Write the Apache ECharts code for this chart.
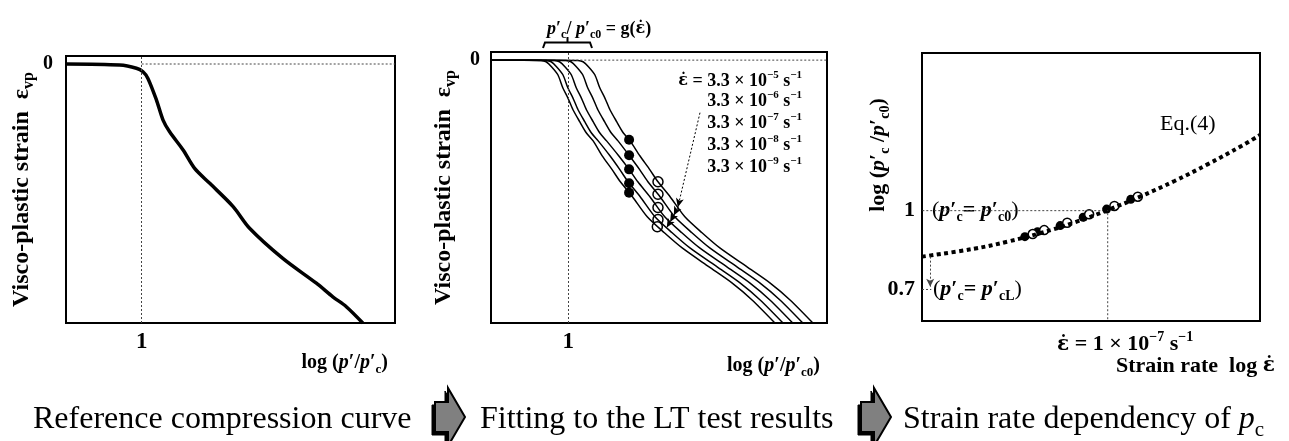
<!DOCTYPE html>
<html><head><meta charset="utf-8">
<script src="https://cdn.jsdelivr.net/npm/echarts@6/dist/echarts.min.js"></script>
<style>html,body{margin:0;padding:0;background:#fff}#c{width:1289px;height:441px}</style>
</head><body><div id="c"></div>
<script>
// ---------- Panel 1: reference compression curve ----------
const refX = [-23, -6.7, -1.6, 0.4, 1.9, 4.5, 6.5, 8.5, 12.6, 16.1, 20.7, 27.8, 32.8, 42.9, 53.1, 58.1, 62.2, 67.2];
const refY = [0, -0.4, -1.6, -2.9, -5.4, -13.5, -21.0, -25.4, -32.2, -39.1, -44.7, -53.4, -61.5, -72.8, -82.1, -87.2, -90.9, -97.0];

// ---------- Panel 2: fitted curves for five strain rates ----------
const fitY  = [0, 0, -0.1, -0.6, -2.4, -5.4, -10.3, -14.0, -18.3, -22.7, -26.9, -29.8, -35.3, -40.5, -44.9, -50.4, -57.8, -63.7, -69.3, -76.3, -82.2, -88.5, -97.0];
const fitXA = [-23, -2.5, 2.9, 4.4, 6.0, 7.9, 9.4, 10.9, 12.4, 14.4, 16.4, 18.4, 21.3, 24.3, 26.7, 30.3, 34.7, 39.8, 45.1, 53.2, 60.0, 66.0, 72.8];
const fitXB = [-23, -6.1, -0.7, 0.8, 2.4, 4.3, 5.8, 7.3, 8.8, 10.8, 12.8, 14.8, 18.2, 21.3, 23.7, 27.3, 31.7, 36.8, 42.1, 50.2, 57.0, 63.0, 69.8];
const fitXC = [-23, -9.5, -4.1, -2.6, -1.0, 0.9, 2.4, 3.9, 5.4, 7.4, 9.4, 11.4, 15.0, 18.2, 20.7, 24.3, 28.7, 33.8, 39.1, 47.2, 54.0, 60.0, 66.8];
const fitXD = [-23, -12.0, -6.6, -5.1, -3.5, -1.6, -0.1, 1.4, 2.9, 4.9, 6.9, 8.9, 12.4, 15.4, 17.8, 21.4, 25.8, 30.9, 36.2, 44.3, 51.1, 57.1, 63.9];
const fitXE = [-23, -13.5, -8.1, -6.6, -5.0, -3.1, -1.6, -0.1, 1.4, 3.4, 5.4, 7.4, 10.1, 13.1, 15.5, 19.1, 23.5, 28.6, 33.9, 41.9, 48.7, 54.7, 61.5];
const testFilledX = [18.1, 18.1, 18.1, 18.1, 18.1];
const testFilledY = [-29.4, -35.1, -40.3, -45.4, -48.9];
const testOpenX = [26.7, 26.7, 26.7, 26.7, 26.5];
const testOpenY = [-44.9, -49.5, -54.4, -58.8, -61.5];
const arrowChainX = [39.2, 32.6, 31.4, 30.3, 29.3];
const arrowChainY = [-19.4, -54.3, -57.3, -59.7, -61.8];
const rateCoef = '3.3';
const rateExps = ['\u22125', '\u22126', '\u22127', '\u22128', '\u22129'];

// ---------- Panel 3: strain-rate dependency ----------
const rateX = [-12, -10.6, -9.7, -8.8, -7.9, -7.0, -6.1, -5.2, -4.3, -3.4, -2.9];
const pcY   = [0.825, 0.855, 0.882, 0.915, 0.955, 1.002, 1.055, 1.113, 1.177, 1.246, 1.288];
const dotFilledX = [-9.23, -8.89, -8.28, -7.66, -7.03, -6.38];
const dotFilledY = [0.901, 0.920, 0.943, 0.975, 1.006, 1.043];
const dotOpenX = [-9.02, -8.71, -8.09, -7.50, -6.82, -6.19];
const dotOpenY = [0.911, 0.926, 0.954, 0.986, 1.018, 1.053];
const refRateX = -7;     // log of 1e-7
const pcLevels = [1, 0.7];
const pcLowArrowX = [-11.78, -11.78];
const pcLowArrowY = [0.825, 0.71];

// ---------- tick labels ----------
const xTicks12 = [0], xTickLabels12 = ['1'];
const yTicks12 = [0], yTickLabels12 = ['0'];
const yTickLabels3 = ['1', '0.7'];

const SERIF = "'Liberation Serif','Times New Roman',serif";
const zip = (xs, ys) => xs.map((x, i) => [x, ys[i]]);

function rich(F) {
  const lh = Math.round(F * 1.3);
  const base = {fontFamily: SERIF, color: '#000', fontSize: F, lineHeight: lh};
  return {
    b: Object.assign({}, base, {fontWeight: 'bold'}),
    bi: Object.assign({}, base, {fontWeight: 'bold', fontStyle: 'italic'}),
    n: Object.assign({}, base, {fontWeight: 'normal'}),
    i: Object.assign({}, base, {fontWeight: 'normal', fontStyle: 'italic'}),
    e: Object.assign({}, base, {fontWeight: 'bold', fontFamily: "'DejaVu Serif',serif", fontSize: Math.round(F * 0.9)}),
    s: {fontFamily: SERIF, color: '#000', fontWeight: 'bold', fontSize: Math.round(F * 0.65), lineHeight: Math.round(F * 0.65), verticalAlign: 'bottom'},
    sn: {fontFamily: SERIF, color: '#000', fontWeight: 'normal', fontSize: Math.round(F * 0.65), lineHeight: Math.round(F * 0.65), verticalAlign: 'bottom'},
    sup: {fontFamily: SERIF, color: '#000', fontWeight: 'bold', fontSize: Math.round(F * 0.62), lineHeight: Math.round(F * 0.8), verticalAlign: 'top'}
  };
}
const EPSD = '{e|\u03B5\u0307}';
const DOT = [2, 2];

function hiddenAxis(extra) {
  return Object.assign({
    type: 'value',
    axisLine: {show: false}, axisTick: {show: false}, splitLine: {show: false},
    axisLabel: {show: false}
  }, extra);
}

const chart = echarts.init(document.getElementById('c'), null, {renderer: 'canvas'});

const tickLabel = (vals, labels, F, margin) => ({
  show: true, customValues: vals, margin: margin,
  formatter: v => labels[vals.indexOf(v)],
  fontFamily: SERIF, fontWeight: 'bold', fontSize: F, color: '#000'
});

const yName = '{b|Visco-plastic strain  \u03B5}{s|vp}';

const option = {
  animation: false,
  backgroundColor: '#fff',
  grid: [
    {left: 66, top: 56, width: 329, height: 267, show: true, borderColor: '#000', borderWidth: 2, backgroundColor: 'transparent'},
    {left: 491, top: 52, width: 336, height: 271, show: true, borderColor: '#000', borderWidth: 2, backgroundColor: 'transparent'},
    {left: 922, top: 53, width: 338, height: 268, show: true, borderColor: '#000', borderWidth: 2, backgroundColor: 'transparent'}
  ],
  xAxis: [
    hiddenAxis({gridIndex: 0, min: -23, max: 77, axisLabel: tickLabel(xTicks12, xTickLabels12, 23, 8)}),
    hiddenAxis({gridIndex: 1, min: -23, max: 77, axisLabel: tickLabel(xTicks12, xTickLabels12, 23, 8)}),
    hiddenAxis({gridIndex: 2, min: -12, max: -2.9, axisLabel: {
      show: true, customValues: [refRateX], margin: 9, padding: [0, 0, 0, 35],
      formatter: () => EPSD + '{b| = 1 \u00D7 10}{sup|\u22127}{b| s}{sup|\u22121}',
      rich: rich(22)
    }})
  ],
  yAxis: [
    hiddenAxis({gridIndex: 0, min: -97, max: 3, axisLabel: tickLabel(yTicks12, yTickLabels12, 20, 13),
      name: yName, nameLocation: 'middle', nameRotate: 90, nameGap: 29,
      nameTextStyle: {rich: rich(24)}}),
    hiddenAxis({gridIndex: 1, min: -97, max: 3, axisLabel: tickLabel(yTicks12, yTickLabels12, 20, 11),
      name: yName, nameLocation: 'middle', nameRotate: 90, nameGap: 32,
      nameTextStyle: {rich: rich(24)}}),
    hiddenAxis({gridIndex: 2, min: 0.58, max: 1.6, axisLabel: tickLabel(pcLevels, yTickLabels3, 22, 7)})
  ],
  series: [
    // Panel 1
    {type: 'line', xAxisIndex: 0, yAxisIndex: 0, data: zip(refX, refY), smooth: 0.3, symbol: 'none',
      lineStyle: {color: '#000', width: 3.5}},
    {type: 'line', xAxisIndex: 0, yAxisIndex: 0, data: [[0, 0], [77, 0]], symbol: 'none',
      lineStyle: {color: '#444', width: 1, type: DOT},
      markLine: {silent: true, symbol: ['none', 'none'], label: {show: false},
        lineStyle: {color: '#444', width: 1, type: DOT}, data: [{xAxis: 0}]}},
    // Panel 2
    ...[fitXA, fitXB, fitXC, fitXD, fitXE].map(xs => ({
      type: 'line', xAxisIndex: 1, yAxisIndex: 1, data: zip(xs, fitY), smooth: 0.25, symbol: 'none',
      lineStyle: {color: '#000', width: 1.5}
    })),
    {type: 'line', xAxisIndex: 1, yAxisIndex: 1, data: [[0, 0], [77, 0]], symbol: 'none',
      lineStyle: {color: '#444', width: 1, type: DOT},
      markLine: {silent: true, symbol: ['none', 'none'], label: {show: false},
        lineStyle: {color: '#444', width: 1, type: DOT}, data: [{xAxis: 0}]}},
    {type: 'scatter', xAxisIndex: 1, yAxisIndex: 1, data: zip(testFilledX, testFilledY), symbol: 'circle', symbolSize: 10,
      itemStyle: {color: '#000', opacity: 1},
      markLine: {silent: true, symbol: ['none', 'arrow'], symbolSize: [6, 9], label: {show: false},
        lineStyle: {color: '#000', width: 1, type: DOT},
        data: arrowChainX.slice(1).map((x, i) => [{coord: [arrowChainX[i], arrowChainY[i]]}, {coord: [x, arrowChainY[i + 1]]}])}},
    {type: 'scatter', xAxisIndex: 1, yAxisIndex: 1, data: zip(testOpenX, testOpenY), symbol: 'circle', symbolSize: 10,
      itemStyle: {color: '#fff', borderColor: '#000', borderWidth: 1.5, opacity: 1}},
    // Panel 3
    {type: 'line', xAxisIndex: 2, yAxisIndex: 2, data: [[-12.1, pcLevels[0]], [refRateX, pcLevels[0]], [refRateX, 0.58]], symbol: 'none',
      lineStyle: {color: '#444', width: 1, type: DOT}},
    {type: 'line', xAxisIndex: 2, yAxisIndex: 2, data: [[-12, pcLevels[1]], [-11.75, pcLevels[1]]], symbol: 'none',
      lineStyle: {color: '#444', width: 1, type: DOT},
      markLine: {silent: true, symbol: ['none', 'arrow'], symbolSize: [6, 8], label: {show: false},
        lineStyle: {color: '#444', width: 1, type: DOT},
        data: [[{coord: [pcLowArrowX[0], pcLowArrowY[0]]}, {coord: [pcLowArrowX[1], pcLowArrowY[1]]}]]}},
    {type: 'line', xAxisIndex: 2, yAxisIndex: 2, data: zip(rateX, pcY), smooth: 0.4, symbol: 'none',
      lineStyle: {color: '#000', width: 4, type: [4, 3.5], cap: 'butt'}},
    {type: 'scatter', xAxisIndex: 2, yAxisIndex: 2, data: zip(dotFilledX, dotFilledY), symbol: 'circle', symbolSize: 9,
      itemStyle: {color: '#000', opacity: 1}},
    {type: 'scatter', xAxisIndex: 2, yAxisIndex: 2, data: zip(dotOpenX, dotOpenY), symbol: 'circle', symbolSize: 9,
      itemStyle: {color: '#fff', borderColor: '#000', borderWidth: 1.5, opacity: 1}}
  ],
  graphic: {elements: []}
};

const G = option.graphic.elements;
function txt(x, y, text, F, align, extra) {
  G.push(Object.assign({type: 'text', x: x, y: y, silent: true,
    style: {text: text, rich: rich(F), align: align || 'left', verticalAlign: 'middle',
      fontFamily: SERIF, fontSize: F, fill: '#000'}}, extra || {}));
}
// axis titles
txt(388, 363, '{b|log (}{bi|p}{b|\u2032/}{bi|p}{b|\u2032}{s|c}{b|)}', 20, 'right');
txt(820, 366, '{b|log (}{bi|p}{b|\u2032/}{bi|p}{b|\u2032}{s|c0}{b|)}', 20, 'right');
txt(1116, 366, '{b|Strain rate  log }' + EPSD, 22, 'left');
txt(878, 155, '{b|log (}{bi|p}{b|\u2032}{s|c}{b| /}{bi|p}{b|\u2032}{s|c0}{b|)}', 22, 'center', {rotation: Math.PI / 2});
// panel 2 annotations
txt(547, 29, '{bi|p}{b|\u2032}{s|c}{b|/ }{bi|p}{b|\u2032}{s|c0}{b| = g(}' + EPSD + '{b|)}', 18, 'left');
G.push({type: 'polyline', silent: true, shape: {points: [[543, 48], [545, 42.5], [590, 42.5], [592, 48]]},
  style: {stroke: '#000', lineWidth: 2, fill: null}});
G.push({type: 'polyline', silent: true, shape: {points: [[567.5, 42.5], [567.5, 37]]},
  style: {stroke: '#000', lineWidth: 2, fill: null}});
const rowY = [81, 101, 123, 145, 167];
rateExps.forEach((e, i) => {
  const head = i === 0 ? EPSD + '{b| = }' : '';
  txt(802, rowY[i], head + '{b|' + rateCoef + ' \u00D7 10}{sup|' + e + '}{b| s}{sup|\u22121}', 18, 'right');
});
// panel 3 annotations
txt(932, 210, '{n|(}{bi|p}{b|\u2032}{s|c}{b|= }{bi|p}{b|\u2032}{s|c0}{n|)}', 22, 'left');
txt(933, 289, '{n|(}{bi|p}{b|\u2032}{s|c}{b|= }{bi|p}{b|\u2032}{s|cL}{n|)}', 22, 'left');
txt(1160, 124, '{n|Eq.(4)}', 22, 'left');
// captions
txt(33, 420, '{n|Reference compression curve}', 32, 'left');
txt(480, 420, '{n|Fitting to the LT test results}', 32, 'left');
txt(903, 420, '{n|Strain rate dependency of }{i|p}{sn|c}', 32, 'left');
function blockArrow(x0) {
  const pts = [[x0, 402], [x0 + 13, 402], [x0 + 13, 388], [x0 + 30, 417], [x0 + 13, 446], [x0 + 13, 432], [x0, 432]];
  G.push({type: 'polygon', silent: true, shape: {points: pts.map(p => [p[0] - 3, p[1] + 3])},
    style: {fill: '#000', stroke: '#000', lineWidth: 1}});
  G.push({type: 'polygon', silent: true, shape: {points: pts},
    style: {fill: '#808080', stroke: '#000', lineWidth: 2}});
}
blockArrow(435);
blockArrow(861);

chart.setOption(option);
</script>
</body></html>
